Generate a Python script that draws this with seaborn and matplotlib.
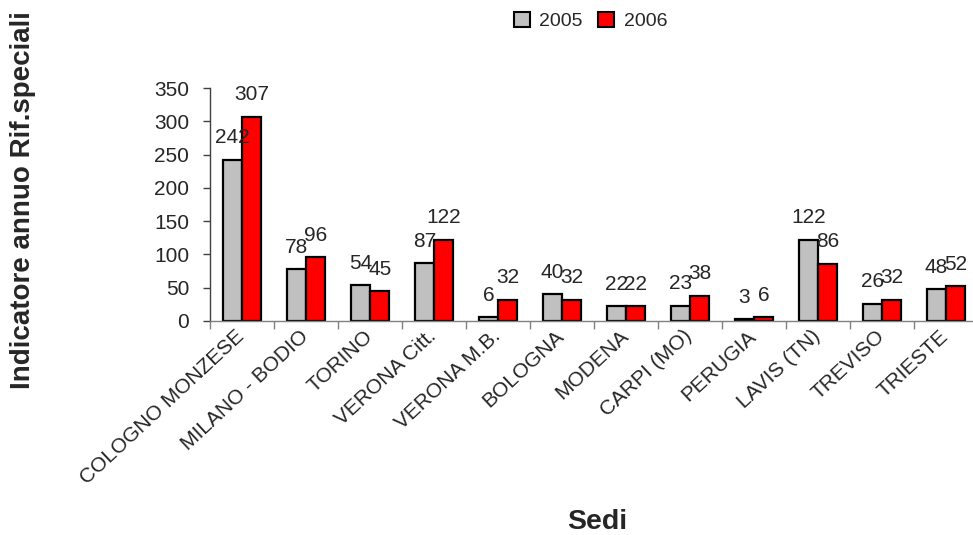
import pandas as pd
import numpy as np
import matplotlib
matplotlib.use("Agg")
import matplotlib.pyplot as plt
import seaborn as sns
from matplotlib.patches import Patch
from matplotlib.transforms import ScaledTranslation

# dati
sedi = ["COLOGNO MONZESE", "MILANO - BODIO", "TORINO", "VERONA Citt.", "VERONA M.B.",
        "BOLOGNA", "MODENA", "CARPI (MO)", "PERUGIA", "LAVIS (TN)", "TREVISO", "TRIESTE"]
val_2005 = [242, 78, 54, 87, 6, 40, 22, 23, 3, 122, 26, 48]
val_2006 = [307, 96, 45, 122, 32, 32, 22, 38, 6, 86, 32, 52]
anni = ["2005", "2006"]
colori = ["#C0C0C0", "#FF0000"]

df = pd.DataFrame({
    "sede": sedi * 2,
    "valore": val_2005 + val_2006,
    "anno": ["2005"] * len(sedi) + ["2006"] * len(sedi),
})

sns.set_style("white")
plt.rcParams["font.family"] = ["Liberation Sans", "DejaVu Sans"]

fig = plt.figure(figsize=(9.73, 5.35), dpi=100)
ax = fig.add_axes([0.216, 0.40, 0.789, 0.4355])

sns.barplot(data=df, x="sede", y="valore", hue="anno", hue_order=anni,
            palette=colori, saturation=1, width=0.6, edgecolor="black",
            linewidth=1.6, ax=ax, errorbar=None, legend=False)

for cont in ax.containers:
    ax.bar_label(cont, padding=9, fontsize=15)

ax.set_ylim(0, 350)
ax.set_xlim(-0.5, len(sedi) - 0.5)
ax.set_yticks(range(0, 351, 50))
ax.tick_params(axis="y", labelsize=15, length=5, width=1, color="#404040", left=True, pad=10)

# tacche tra le categorie
ax.set_xticks(np.arange(len(sedi)))
ax.set_xticks(np.arange(-0.5, len(sedi), 1), minor=True)
ax.tick_params(axis="x", which="major", length=0, pad=4)
ax.tick_params(axis="x", which="minor", length=6, width=1, color="#808080", bottom=True)
ax.set_xticklabels(sedi, rotation=43, ha="right", rotation_mode="anchor", fontsize=15)
off = ScaledTranslation(-7 / 100, 0, fig.dpi_scale_trans)
for lab in ax.get_xticklabels():
    lab.set_transform(lab.get_transform() + off)

for s in ["top", "right"]:
    ax.spines[s].set_visible(False)
ax.spines["left"].set_color("#404040")
ax.spines["bottom"].set_color("#808080")
ax.spines["left"].set_linewidth(1)
ax.spines["bottom"].set_linewidth(1)

ax.set_xlabel("")
ax.set_ylabel("")
fig.text(0.614, 0.012, "Sedi", fontsize=20.5, fontweight="bold", ha="center")
fig.text(0.024, 0.626, "Indicatore annuo Rif.speciali", fontsize=20,
         fontweight="bold", rotation=90, va="center", ha="center")

handles = [Patch(facecolor=c, edgecolor="black", linewidth=1.5) for c in colori]
fig.legend(handles, anni, loc="upper center", bbox_to_anchor=(0.607, 1.01), ncol=2,
           frameon=False, fontsize=14, handlelength=0.8, handleheight=0.8,
           columnspacing=0.8, handletextpad=0.5)

fig.savefig("out.png", dpi=100)
